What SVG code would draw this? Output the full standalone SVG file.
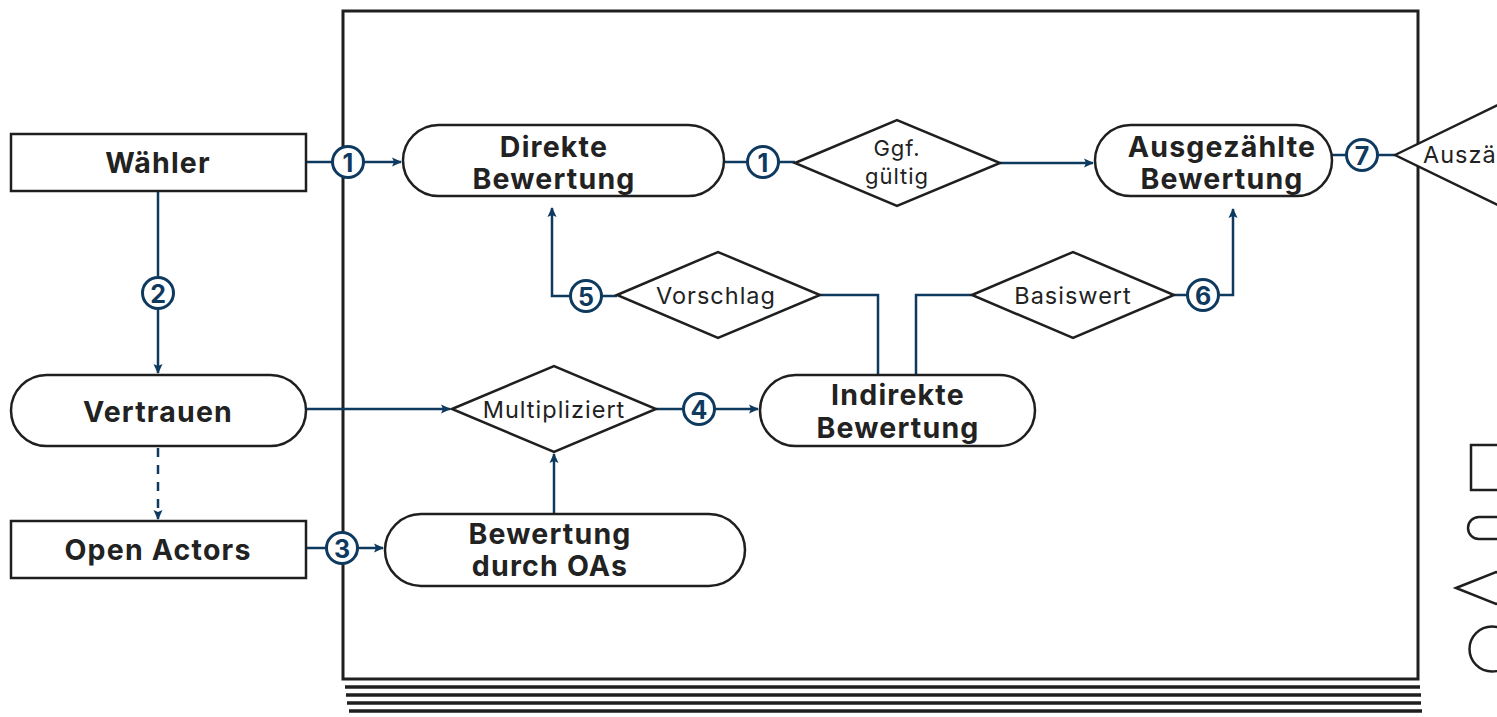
<svg xmlns="http://www.w3.org/2000/svg" width="1497" height="717" viewBox="0 0 1497 717">
<defs>
<marker id="ah" markerWidth="10" markerHeight="10" refX="9" refY="5" orient="auto" markerUnits="userSpaceOnUse">
<path d="M0,0.5 L10,5 L0,9.5 L2,5 Z" fill="#0f3a5f"/>
</marker>
<style>
.box{fill:#fff;stroke:#1f1f1f;stroke-width:2.5}
.frame{fill:none;stroke:#1f1f1f;stroke-width:3}
.con{fill:none;stroke:#0f3a5f;stroke-width:2.5}
.num circle{fill:#fff;stroke:#0f3a5f;stroke-width:3}
.num text{font-family:"Inter","Liberation Sans",sans-serif;font-weight:700;font-size:25px;fill:#0f3a5f;text-anchor:middle;dominant-baseline:central}
.b{font-family:"Inter","Liberation Sans",sans-serif;font-weight:700;font-size:28.5px;letter-spacing:1.2px;fill:#222;text-anchor:middle;dominant-baseline:central}
.r{font-family:"Inter","Liberation Sans",sans-serif;font-weight:400;font-size:23.5px;letter-spacing:1px;fill:#222;text-anchor:middle;dominant-baseline:central}
.r2{font-size:22px}
.ul{stroke:#1f1f1f;stroke-width:3.5}
</style>
</defs>
<rect class="frame" x="343" y="11" width="1075" height="668"/>
<g id="underlines">
<line class="ul" x1="345" y1="687" x2="1420" y2="687"/>
<line class="ul" x1="346" y1="695" x2="1421" y2="695"/>
<line class="ul" x1="347" y1="703" x2="1421" y2="703"/>
<line class="ul" x1="349" y1="711" x2="1422" y2="711"/>
</g>
<g id="connectors">
<path class="con" d="M306,162 H401" marker-end="url(#ah)"/>
<path class="con" d="M724,162 H795"/>
<path class="con" d="M1000,163 H1093" marker-end="url(#ah)"/>
<path class="con" d="M1332,155 H1395"/>
<path class="con" d="M158,191 V373" marker-end="url(#ah)"/>
<path class="con" d="M158,448 V519" stroke-dasharray="9,8" marker-end="url(#ah)"/>
<path class="con" d="M306,548 H383" marker-end="url(#ah)"/>
<path class="con" d="M306,409 H450" marker-end="url(#ah)"/>
<path class="con" d="M554,514 V454" marker-end="url(#ah)"/>
<path class="con" d="M656,409 H758" marker-end="url(#ah)"/>
<path class="con" d="M617,296 H552 V208" marker-end="url(#ah)"/>
<path class="con" d="M820,295 H878 V375"/>
<path class="con" d="M916,375 V295 H972"/>
<path class="con" d="M1174,295 H1233 V209" marker-end="url(#ah)"/>
<g class="num"><circle cx="348" cy="162" r="15.5"/><text x="348" y="163">1</text></g>
<g class="num"><circle cx="763" cy="162" r="15.5"/><text x="763" y="163">1</text></g>
<g class="num"><circle cx="1362" cy="155" r="15.5"/><text x="1362" y="156">7</text></g>
<g class="num"><circle cx="158" cy="293" r="15.5"/><text x="158" y="294">2</text></g>
<g class="num"><circle cx="342" cy="548" r="15.5"/><text x="342" y="549">3</text></g>
<g class="num"><circle cx="699" cy="409" r="15.5"/><text x="699" y="410">4</text></g>
<g class="num"><circle cx="586" cy="296" r="15.5"/><text x="586" y="297">5</text></g>
<g class="num"><circle cx="1203" cy="295" r="15.5"/><text x="1203" y="296">6</text></g>
</g>
<g id="waehler"><rect class="box" x="11" y="134" width="295" height="57"/><text class="b" x="158" y="162">Wähler</text></g>
<g id="vertrauen"><rect class="box" x="11" y="375" width="295" height="71" rx="35.5"/><text class="b" x="158" y="411">Vertrauen</text></g>
<g id="openactors"><rect class="box" x="11" y="521" width="295" height="57"/><text class="b" x="158" y="549">Open Actors</text></g>
<g id="direkte"><rect class="box" x="403" y="125" width="321" height="71" rx="35.5"/><text class="b" x="554" y="146">Direkte</text><text class="b" x="554" y="178">Bewertung</text></g>
<g id="ggf"><polygon class="box" points="795,163 897,120 1000,163 897,206"/><text class="r r2" x="897" y="148">Ggf.</text><text class="r r2" x="897" y="176">gültig</text></g>
<g id="ausgezaehlte"><rect class="box" x="1095" y="125" width="237" height="71" rx="35.5"/><text class="b" x="1222" y="146">Ausgezählte</text><text class="b" x="1222" y="178">Bewertung</text></g>
<g id="auszaehlung"><polygon class="box" points="1395,155 1510,99 1510,211"/><text class="r" x="1423" y="154" style="text-anchor:start">Auszä</text></g>
<g id="vorschlag"><polygon class="box" points="617,295 718,252 820,295 718,338"/><text class="r" x="716" y="295">Vorschlag</text></g>
<g id="basiswert"><polygon class="box" points="972,295 1073,252 1174,295 1073,338"/><text class="r" x="1073" y="295">Basiswert</text></g>
<g id="multipliziert"><polygon class="box" points="452,409 554,366 656,409 554,452"/><text class="r" x="554" y="409">Multipliziert</text></g>
<g id="indirekte"><rect class="box" x="760" y="375" width="275" height="71" rx="35.5"/><text class="b" x="898" y="394">Indirekte</text><text class="b" x="898" y="427">Bewertung</text></g>
<g id="durchoas"><rect class="box" x="385" y="514" width="360" height="72" rx="36"/><text class="b" x="550" y="533">Bewertung</text><text class="b" x="550" y="565">durch OAs</text></g>
<g id="legend">
<rect class="box" x="1471" y="445" width="60" height="45"/>
<rect class="box" x="1468" y="517" width="60" height="22" rx="11"/>
<polygon class="box" points="1456,588 1496,572 1536,588 1496,604"/>
<circle class="box" cx="1492" cy="649" r="22.5"/>
</g>
</svg>
